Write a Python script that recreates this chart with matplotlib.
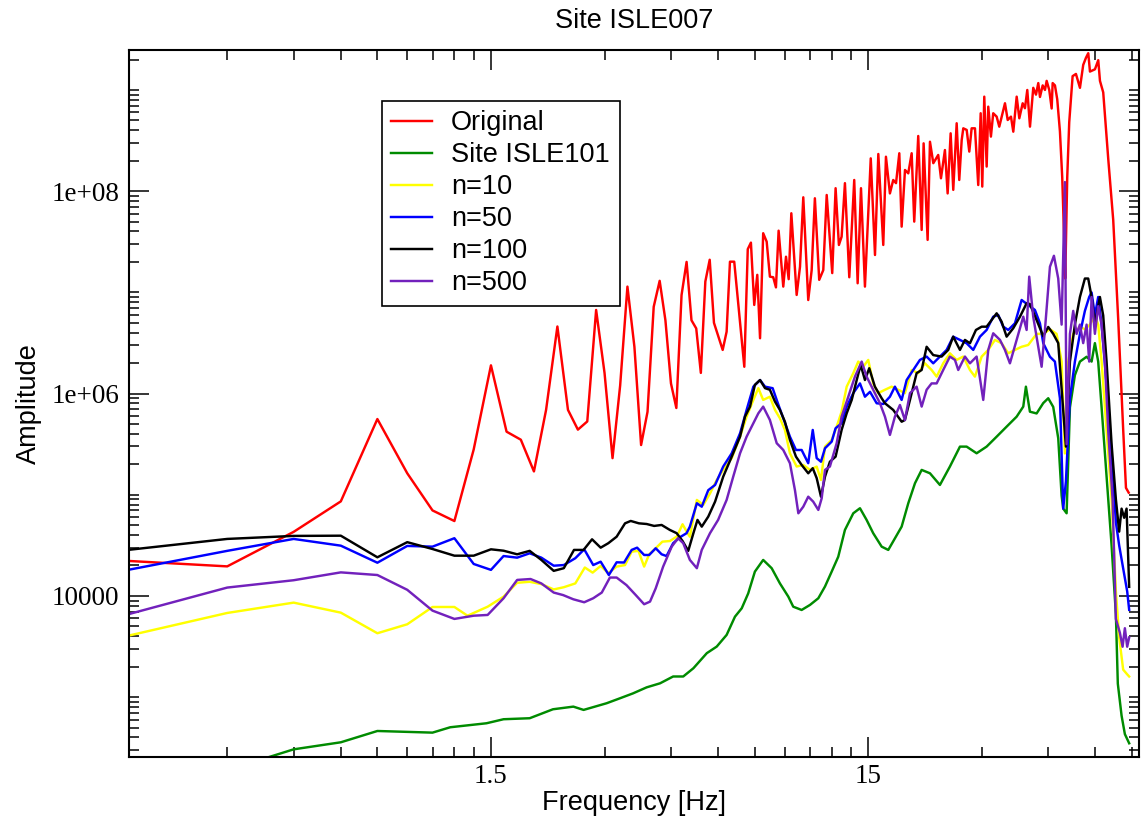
import matplotlib
matplotlib.use('Agg')
import matplotlib.pyplot as plt
from matplotlib.ticker import NullFormatter

plt.rcParams['font.family'] = ['Liberation Sans', 'DejaVu Sans']

# ---- data (frequency in Hz, amplitude) ----
f_orig = [0.15, 0.30, 0.45, 0.60, 0.75, 0.90, 1.05, 1.20, 1.35, 1.50,
          1.65, 1.80, 1.95, 2.10, 2.25, 2.40, 2.55, 2.70, 2.85, 3.00,
          3.15, 3.30, 3.45, 3.60, 3.75, 3.90, 4.05, 4.20, 4.35, 4.50,
          4.65, 4.80, 4.95, 5.10, 5.25, 5.40, 5.55, 5.70, 5.85,
          6.17, 6.32, 6.45, 6.62, 7.04, 7.19, 7.33, 7.48, 7.62, 7.75,
          7.90, 8.07, 8.23, 8.40, 8.54, 8.68, 8.93, 9.08, 9.23, 9.38,
          9.69, 9.89, 10.09, 10.40, 10.62, 10.83, 11.12, 11.40, 11.64, 11.87,
          12.04, 12.29, 12.54, 12.75, 13.01, 13.36, 13.77, 14.06, 14.35, 14.70,
          15.23, 15.63, 15.95, 16.44, 16.71, 17.12, 17.47, 17.77, 18.13, 18.39,
          18.77, 19.15, 19.55, 19.86, 20.35, 20.78, 21.03, 21.55, 21.86, 22.31,
          22.99, 23.38, 23.95, 24.35, 24.80, 25.20, 25.73, 26.14, 26.53, 26.79,
          27.35, 27.79, 28.19, 28.77, 29.35, 29.79, 30.08, 30.45, 30.90, 31.20,
          31.71, 32.16, 32.84, 33.37, 34.55, 35.13, 35.84, 36.35, 37.11, 37.71,
          38.49, 39.03, 39.59, 40.25, 41.06, 41.75, 42.34, 42.78, 43.49, 44.10,
          44.56, 45.27, 45.94, 46.22, 46.87, 47.53, 48.32, 49.00, 49.52, 49.91,
          50.52, 51.14, 52.21, 53.28, 54.60, 55.70, 56.64, 57.44, 58.04, 59.83,
          61.05, 61.69, 62.93, 64.89, 66.89, 68.97, 71.10, 72.30, 73.50]
a_orig = [2.26e4, 1.96e4, 4.3e4, 8.6e4, 5.6e5, 1.63e5, 7.0e4, 5.5e4, 2.8e5, 1.9e6,
          4.2e5, 3.5e5, 1.7e5, 6.9e5, 4.6e6, 6.9e5, 4.4e5, 5.3e5, 6.7e6, 1.6e6,
          2.3e5, 1.2e6, 1.14e7, 2.9e6, 3.1e5, 6.6e5, 7.2e6, 1.3e7, 5.3e6, 1.26e6,
          7.2e5, 9.4e6, 2.0e7, 5.3e6, 4.4e6, 1.6e6, 1.28e7, 2.1e7, 5.0e6,
          2.70e6, 4.09e6, 2.01e7, 2.01e7, 1.84e6, 2.67e7, 3.10e7, 7.51e6, 1.49e7, 3.52e6,
          3.84e7, 3.17e7, 1.43e7, 1.41e7, 1.12e7, 4.07e7, 1.14e7, 2.25e7, 1.35e7, 6.05e7,
          9.43e6, 1.79e7, 8.7e7, 8.4e6, 1.66e7, 8.51e7, 1.33e7, 1.66e7, 9.17e7, 3.3e7,
          1.55e7, 1.07e8, 2.94e7, 3.55e7, 1.2e8, 1.41e7, 1.29e8, 1.23e7, 1.07e8, 1.14e7,
          2.11e8, 2.34e7, 2.33e8, 2.94e7, 2.19e8, 9.5e7, 1.29e8, 1.2e8, 2.37e8, 4.46e7,
          1.62e8, 1.5e8, 2.37e8, 5.0e7, 3.51e8, 4.14e7, 2.97e8, 3.3e7, 3.08e8, 1.89e8,
          2.28e8, 1.34e8, 2.55e8, 9.5e7, 3.73e8, 1.03e8, 4.69e8, 1.29e8, 3.2e8, 4.18e8,
          4.03e8, 2.46e8, 4.18e8, 4.18e8, 1.15e8, 5.89e8, 1.11e8, 8.59e8, 1.75e8, 6.84e8,
          3.46e8, 5.89e8, 5.45e8, 4.34e8, 7.39e8, 5.05e8, 5.45e8, 3.87e8, 8.59e8, 5.25e8,
          7.39e8, 6.6e8, 1.0e9, 4.34e8, 1.05e9, 8.99e8, 1.17e9, 8.53e8, 1.11e9, 1.0e9,
          1.23e9, 1.0e9, 6.56e8, 1.17e9, 1.11e9, 8.09e8, 3.89e8, 1.37e8, 3.89e7, 1.37e7,
          1.37e8, 4.8e8, 1.37e9, 1.44e9, 1.05e9, 1.77e9, 2.08e9, 2.31e9, 1.52e9, 1.6e9,
          1.97e9, 1.23e9, 9.47e8, 2.08e8, 5.19e7, 5.34e6, 4.32e5, 1.17e5, 1.05e5]

f_site = [0.15, 0.30, 0.45, 0.60, 0.75, 0.86, 1.05, 1.17, 1.46, 1.62,
          1.90, 2.19, 2.48, 2.64, 3.04, 3.30, 3.57, 3.88, 4.21, 4.56,
          4.85, 5.16, 5.60, 5.95, 6.32, 6.65, 6.93, 7.21, 7.51, 7.90,
          8.32, 8.75, 9.21, 9.49, 9.99, 10.51, 11.06, 11.52, 12.00, 12.49,
          13.01, 13.69, 14.26, 14.85, 15.46, 16.28, 16.95, 18.39, 19.15, 19.95,
          20.78, 21.86, 23.23, 24.69, 26.25, 27.34, 29.06, 30.89, 32.84, 34.90,
          37.10, 38.63, 39.26, 40.23, 41.91, 43.64, 44.99, 46.38, 47.82, 48.82,
          49.30, 50.33, 51.36, 52.94, 54.59, 56.86, 58.62, 59.81, 61.03, 62.31,
          64.23, 66.23, 67.99, 68.79, 70.39, 71.82, 73.73]
a_site = [150, 190, 305, 358, 463, 456, 446, 504, 552, 605,
          619, 759, 806, 748, 871, 976, 1090, 1250, 1370, 1600,
          1600, 1930, 2720, 3160, 4120, 6240, 7550, 1.06e4, 1.74e4, 2.27e4,
          1.88e4, 1.33e4, 9.84e3, 7.83e3, 7.27e3, 8.15e3, 9.49e3, 1.24e4, 1.74e4, 2.44e4,
          4.49e4, 6.56e4, 7.36e4, 5.64e4, 4.17e4, 3.07e4, 2.85e4, 4.84e4, 8.24e4, 1.30e5,
          1.76e5, 1.63e5, 1.25e5, 1.90e5, 2.99e5, 2.99e5, 2.57e5, 2.99e5, 3.75e5, 4.71e5,
          5.91e5, 7.43e5, 1.17e6, 6.62e5, 6.36e5, 8.05e5, 8.99e5, 7.38e5, 3.62e5, 9.77e4,
          7.29e4, 6.56e4, 7.29e5, 1.52e6, 2.07e6, 2.31e6, 2.07e6, 3.15e6, 2.07e6, 7.29e5,
          1.52e5, 3.15e4, 6.56e3, 1.36e3, 656, 431, 350]

f_n10 = [0.15, 0.30, 0.45, 0.60, 0.75, 0.90, 1.05, 1.20, 1.30, 1.47,
         1.62, 1.76, 1.90, 2.04, 2.20, 2.34, 2.51, 2.66, 2.79, 2.93,
         3.07, 3.23, 3.40, 3.54, 3.69, 3.82, 3.94, 4.10, 4.27, 4.47,
         4.66, 4.83, 4.98, 5.05, 5.27, 5.48, 5.71, 5.95, 6.19, 6.52,
         6.86, 7.14, 7.44, 7.67, 7.90, 8.23, 8.49, 8.75, 9.02, 9.30,
         9.69, 10.09, 10.51, 10.95, 11.24, 11.52, 12.00, 12.37, 12.75, 13.15,
         13.69, 14.11, 14.55, 15.00, 15.46, 15.94, 16.61, 17.30, 18.01, 18.76,
         19.55, 20.35, 21.20, 22.08, 22.77, 23.70, 24.69, 25.72, 26.78, 27.90,
         28.76, 29.97, 31.20, 32.50, 33.85, 35.25, 36.72, 38.25, 39.82, 41.91,
         43.64, 45.46, 47.35, 48.82, 49.81, 50.83, 52.40, 54.59, 56.27, 58.02,
         59.81, 61.03, 62.31, 64.23, 66.23, 67.99, 69.37, 71.08, 72.84, 73.73]
a_n10 = [3.75e3, 6.79e3, 8.59e3, 6.84e3, 4.28e3, 5.25e3, 7.78e3, 7.78e3, 6.38e3, 7.83e3,
         9.84e3, 1.35e4, 1.38e4, 1.31e4, 1.16e4, 1.22e4, 1.33e4, 1.91e4, 1.70e4, 1.98e4,
         1.68e4, 1.95e4, 2.02e4, 2.74e4, 2.79e4, 1.95e4, 2.58e4, 2.96e4, 3.44e4, 3.49e4,
         3.85e4, 5.11e4, 4.17e4, 3.85e4, 8.89e4, 7.93e4, 1.03e5, 1.40e5, 1.76e5, 2.30e5,
         3.75e5, 5.91e5, 8.65e5, 1.13e6, 8.65e5, 9.31e5, 6.89e5, 5.70e5, 4.37e5, 2.57e5,
         1.90e5, 1.97e5, 1.76e5, 1.90e5, 1.40e5, 2.99e5, 3.48e5, 4.71e5, 6.62e5, 1.17e6,
         1.59e6, 2.07e6, 1.84e6, 2.15e6, 1.26e6, 1.01e6, 1.09e6, 1.17e6, 1.09e6, 1.01e6,
         1.71e6, 1.59e6, 1.99e6, 1.71e6, 1.47e6, 1.99e6, 2.50e6, 2.15e6, 2.32e6, 1.71e6,
         1.47e6, 2.32e6, 2.70e6, 3.39e6, 3.14e6, 2.50e6, 2.70e6, 2.90e6, 3.02e6, 3.89e6,
         3.89e6, 4.32e6, 3.89e6, 2.07e6, 2.56e5, 2.07e6, 3.89e6, 4.55e6, 4.32e6, 4.80e6,
         5.92e6, 4.80e6, 2.07e6, 4.32e5, 9.0e4, 1.11e4, 3.89e3, 1.87e3, 1.68e3, 1.60e3]

f_n50 = [0.15, 0.30, 0.45, 0.60, 0.75, 0.90, 1.05, 1.20, 1.35, 1.50,
         1.62, 1.76, 1.90, 2.04, 2.20, 2.34, 2.51, 2.65, 2.80, 2.93,
         3.08, 3.23, 3.38, 3.54, 3.66, 3.82, 3.94, 4.10, 4.25, 4.38,
         4.56, 4.75, 4.95, 5.05, 5.27, 5.43, 5.65, 5.89, 6.19, 6.52,
         6.86, 7.14, 7.44, 7.75, 7.99, 8.37, 8.61, 8.93, 9.30, 9.65,
         9.99, 10.40, 10.69, 10.95, 11.24, 11.52, 12.00, 12.29, 12.75, 13.15,
         13.69, 14.26, 14.70, 15.16, 15.79, 16.44, 17.12, 17.65, 18.39, 18.96,
         19.74, 20.56, 21.42, 22.30, 23.23, 24.20, 25.19, 26.25, 27.34, 28.47,
         29.66, 30.89, 32.16, 33.16, 34.18, 35.25, 36.72, 38.25, 39.82, 41.48,
         42.77, 43.64, 45.46, 46.86, 48.32, 49.30, 50.12, 51.36, 52.94, 54.59,
         56.27, 57.77, 58.62, 59.81, 61.03, 62.31, 64.23, 66.23, 67.99, 69.37,
         71.08, 72.84, 73.73]
a_n50 = [1.70e4, 2.79e4, 3.66e4, 3.14e4, 2.13e4, 3.12e4, 3.07e4, 3.72e4, 2.07e4, 1.81e4,
         2.48e4, 2.39e4, 2.64e4, 2.39e4, 1.99e4, 2.02e4, 2.36e4, 2.89e4, 2.02e4, 2.18e4,
         1.61e4, 2.15e4, 2.14e4, 2.85e4, 3.0e4, 2.54e4, 2.54e4, 2.96e4, 2.58e4, 2.48e4,
         3.32e4, 3.80e4, 4.17e4, 4.84e4, 8.24e4, 7.62e4, 1.11e5, 1.25e5, 1.90e5, 2.57e5,
         4.05e5, 6.89e5, 1.17e6, 1.36e6, 1.17e6, 1.13e6, 8.32e5, 5.70e5, 3.75e5, 2.77e5,
         2.77e5, 2.05e5, 4.37e5, 2.30e5, 2.12e5, 2.88e5, 3.35e5, 4.54e5, 5.09e5, 7.43e5,
         1.01e6, 1.26e6, 9.31e5, 1.04e6, 8.02e5, 7.89e5, 9.31e5, 1.17e6, 8.65e5, 1.36e6,
         1.71e6, 2.15e6, 2.32e6, 1.99e6, 2.32e6, 2.70e6, 3.65e6, 3.39e6, 3.14e6, 2.70e6,
         3.65e6, 4.25e6, 5.75e6, 5.98e6, 4.58e6, 4.25e6, 4.95e6, 8.41e6, 7.5e6, 6.70e6,
         4.95e6, 3.15e6, 2.31e6, 2.07e6, 8.99e5, 7.29e4, 1.36e5, 8.99e5, 2.07e6, 3.89e6,
         6.56e6, 9.0e6, 9.98e6, 5.92e6, 9.0e6, 4.80e6, 1.23e6, 2.56e5, 5.32e4, 3.15e4,
         1.87e4, 1.11e4, 7.29e3]

f_n100 = [0.15, 0.30, 0.45, 0.60, 0.75, 0.90, 1.05, 1.20, 1.35, 1.50,
          1.62, 1.76, 1.90, 2.04, 2.20, 2.34, 2.49, 2.64, 2.78, 2.93,
          3.07, 3.23, 3.40, 3.52, 3.70, 3.88, 4.06, 4.25, 4.47, 4.66,
          4.83, 5.00, 5.16, 5.29, 5.43, 5.65, 5.89, 6.19, 6.52, 6.86,
          7.07, 7.29, 7.51, 7.75, 7.99, 8.23, 8.49, 8.75, 9.02, 9.30,
          9.65, 9.99, 10.40, 10.69, 10.95, 11.24, 11.52, 11.87, 12.29, 12.75,
          13.15, 13.56, 13.98, 14.32, 14.70, 15.09, 15.62, 16.28, 16.61, 17.47,
          18.39, 18.76, 19.35, 20.15, 20.78, 21.42, 22.30, 23.47, 24.44, 25.19,
          26.25, 27.06, 27.90, 28.94, 29.97, 30.89, 31.85, 32.84, 33.85, 34.90,
          36.34, 37.86, 39.43, 40.23, 41.91, 43.64, 44.99, 46.38, 47.82, 48.82,
          50.12, 51.36, 52.94, 54.59, 56.27, 57.42, 58.62, 59.81, 61.67, 62.92,
          64.23, 66.23, 67.99, 69.37, 70.39, 71.52, 72.57, 73.73]
a_n100 = [2.75e4, 3.66e4, 3.92e4, 3.94e4, 2.41e4, 3.40e4, 2.91e4, 2.50e4, 2.50e4, 2.89e4,
          2.80e4, 2.58e4, 2.79e4, 2.27e4, 1.77e4, 1.88e4, 2.85e4, 2.85e4, 3.63e4, 3.0e4,
          3.32e4, 3.85e4, 5.22e4, 5.51e4, 5.22e4, 5.14e4, 4.92e4, 5.03e4, 4.49e4, 4.17e4,
          3.49e4, 2.79e4, 4.17e4, 5.64e4, 4.84e4, 6.08e4, 8.55e4, 1.51e5, 2.38e5, 3.75e5,
          5.91e5, 7.43e5, 1.22e6, 1.36e6, 1.13e6, 1.09e6, 8.32e5, 6.89e5, 5.27e5, 3.48e5,
          2.38e5, 1.97e5, 1.63e5, 1.83e5, 1.46e5, 9.57e4, 1.51e5, 2.12e5, 2.38e5, 4.37e5,
          6.38e5, 8.65e5, 1.36e6, 1.92e6, 1.36e6, 1.78e6, 1.17e6, 8.99e5, 8.02e5, 6.89e5,
          5.27e5, 5.48e5, 8.65e5, 1.59e6, 1.71e6, 2.90e6, 2.40e6, 2.32e6, 2.70e6, 3.65e6,
          2.70e6, 3.39e6, 3.14e6, 4.25e6, 4.58e6, 4.58e6, 5.33e6, 6.21e6, 5.13e6, 3.65e6,
          4.42e6, 5.75e6, 7.80e6, 7.67e6, 5.32e6, 3.69e6, 4.55e6, 3.89e6, 3.15e6, 1.11e6,
          2.99e5, 2.07e6, 4.80e6, 9.0e6, 1.37e7, 1.37e7, 9.0e6, 4.80e6, 9.0e6, 5.92e6,
          2.07e6, 3.16e5, 9.0e4, 4.32e4, 7.29e4, 5.92e4, 7.29e4, 1.23e4]

f_n500 = [0.15, 0.30, 0.45, 0.60, 0.75, 0.90, 1.05, 1.20, 1.35, 1.47,
          1.62, 1.76, 1.91, 2.04, 2.20, 2.33, 2.48, 2.65, 2.80, 2.95,
          3.10, 3.23, 3.43, 3.63, 3.82, 3.96, 4.10, 4.29, 4.52, 4.70,
          4.85, 5.05, 5.27, 5.43, 5.71, 6.00, 6.32, 6.58, 6.86, 7.14,
          7.44, 7.67, 7.90, 8.23, 8.58, 8.93, 9.30, 9.59, 9.79, 10.09,
          10.40, 10.72, 11.06, 11.29, 11.52, 11.87, 12.37, 12.75, 13.28, 13.83,
          14.41, 14.85, 15.46, 16.11, 16.61, 17.12, 17.65, 18.20, 18.76, 19.35,
          20.15, 20.78, 21.42, 22.08, 22.77, 23.70, 24.69, 25.46, 25.98, 27.06,
          27.90, 29.06, 30.26, 31.20, 32.16, 33.51, 34.54, 35.61, 37.10, 38.63,
          39.43, 40.06, 41.05, 42.33, 43.21, 44.09, 45.46, 46.58, 47.82, 48.82,
          49.81, 50.33, 51.36, 52.40, 53.49, 54.59, 55.69, 56.86, 57.77, 58.62,
          59.81, 61.03, 62.31, 63.57, 64.87, 66.63, 67.99, 69.67, 70.82, 71.82,
          72.84, 73.73]
a_n500 = [6.03e3, 1.21e4, 1.43e4, 1.71e4, 1.61e4, 1.15e4, 7.16e3, 5.93e3, 6.38e3, 6.49e3,
          9.49e3, 1.44e4, 1.47e4, 1.33e4, 1.08e4, 1.02e4, 9.27e3, 8.66e3, 9.49e3, 1.08e4,
          1.52e4, 1.52e4, 1.28e4, 1.02e4, 8.28e3, 8.79e3, 1.19e4, 1.95e4, 3.07e4, 3.72e4,
          3.32e4, 2.27e4, 1.88e4, 2.85e4, 4.17e4, 5.64e4, 8.89e4, 1.51e5, 2.57e5, 3.75e5,
          5.09e5, 6.38e5, 7.43e5, 5.48e5, 3.23e5, 2.77e5, 2.05e5, 1.11e5, 6.56e4, 7.62e4,
          9.57e4, 8.55e4, 7.08e4, 9.23e4, 1.76e5, 1.90e5, 3.23e5, 5.91e5, 9.31e5, 1.47e6,
          2.07e6, 1.47e6, 1.09e6, 8.02e5, 5.91e5, 3.90e5, 5.91e5, 7.71e5, 5.48e5, 1.01e6,
          1.17e6, 7.43e5, 1.09e6, 1.26e6, 1.26e6, 1.71e6, 2.32e6, 2.15e6, 1.71e6, 2.32e6,
          1.99e6, 2.32e6, 8.65e5, 2.70e6, 3.94e6, 3.39e6, 2.70e6, 1.99e6, 3.39e6, 5.75e6,
          4.25e6, 1.43e7, 5.75e6, 2.90e6, 1.84e6, 4.25e6, 1.79e7, 2.30e7, 1.37e7, 4.80e6,
          1.23e8, 3.16e5, 3.89e6, 6.56e6, 3.89e6, 4.80e6, 3.15e6, 4.80e6, 2.07e6, 9.0e6,
          3.89e6, 7.30e6, 4.80e6, 2.07e6, 4.32e5, 9.0e4, 5.92e3, 4.32e3, 3.15e3, 4.80e3,
          3.15e3, 3.89e3]

labels = ['Original', 'Site ISLE101', 'n=10', 'n=50', 'n=100', 'n=500']
colors = ['#ff0000', '#008b00', '#ffff00', '#0000ff', '#000000', '#7221bc']

x_major = [1.5, 15]
x_minor = [0.3, 0.45, 0.6, 0.75, 0.9, 1.05, 1.2, 1.35,
           3, 4.5, 6, 7.5, 9, 10.5, 12, 13.5, 30, 45, 60, 75]
y_major = [1e4, 1e6, 1e8]
y_major_labels = ['10000', '1e+06', '1e+08']

# ---- figure ----
fig = plt.figure(figsize=(11.46, 8.26), dpi=100)
ax = fig.add_axes([0.1128, 0.0835, 0.8813, 0.8559])

series = [(f_orig, a_orig), (f_site, a_site), (f_n10, a_n10),
          (f_n50, a_n50), (f_n100, a_n100), (f_n500, a_n500)]
for (fx, ay), lab, col in zip(series, labels, colors):
    ax.plot(fx, ay, color=col, lw=1.75, label=lab)

ax.set_xscale('log')
ax.set_yscale('log')
ax.set_xlim(0.165, 78.4)
ax.set_ylim(256, 2.48e9)

ax.set_xticks(x_major)
ax.set_xticklabels(['1.5', '15'])
ax.set_xticks(x_minor, minor=True)
ax.xaxis.set_minor_formatter(NullFormatter())

y_minor = [k * 10.0 ** n for n in range(2, 10) for k in range(1, 10)
           if 256 < k * 10.0 ** n < 2.48e9 and k * 10.0 ** n not in y_major]
ax.set_yticks(y_major)
ax.set_yticklabels(y_major_labels)
ax.set_yticks(y_minor, minor=True)
ax.yaxis.set_minor_formatter(NullFormatter())

ax.tick_params(which='both', direction='in', top=True, right=True, width=1.1)
ax.tick_params(which='major', length=14.4)
ax.tick_params(which='minor', length=7.2)
ax.tick_params(axis='x', which='major', pad=5)
ax.tick_params(axis='y', which='major', pad=7)
for lab in ax.get_xticklabels() + ax.get_yticklabels():
    lab.set_fontfamily('Liberation Serif')
    lab.set_fontsize(19.5)
for sp in ax.spines.values():
    sp.set_linewidth(1.5)

ax.set_xlabel('Frequency [Hz]', fontsize=19.5)
ax.xaxis.set_label_coords(0.5, -0.065)
ax.xaxis.label.set_verticalalignment('center')
ax.set_ylabel('Amplitude', fontsize=19.5)
ax.yaxis.set_label_coords(-0.099, 0.5)
ax.yaxis.label.set_verticalalignment('center')

fig.text(0.5535, 0.975, 'Site ISLE007', ha='center', va='center', fontsize=19.5)

leg = ax.legend(loc='upper left', bbox_to_anchor=(0.3331, 0.8781),
                bbox_transform=fig.transFigure, fontsize=19.5,
                frameon=True, fancybox=False, edgecolor='black', framealpha=1,
                borderpad=0.36, labelspacing=0.22, handlelength=1.5,
                handletextpad=0.7, borderaxespad=0)
leg.get_frame().set_linewidth(1.2)

fig.savefig('out.png', dpi=100)
